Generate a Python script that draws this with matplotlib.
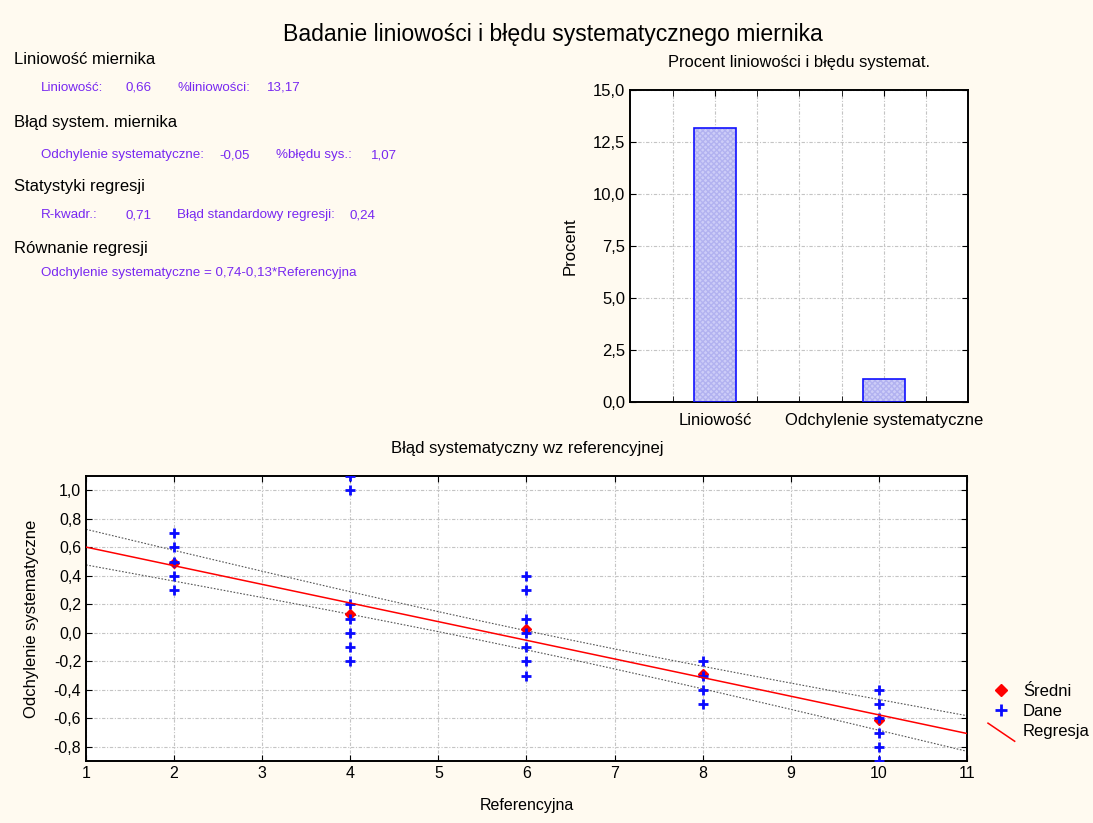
import numpy as np
import matplotlib
matplotlib.use('Agg')
import matplotlib.pyplot as plt
from matplotlib.legend_handler import HandlerBase
from matplotlib.lines import Line2D
from matplotlib.ticker import FuncFormatter, MultipleLocator

plt.rcParams['font.family'] = ['Liberation Sans', 'DejaVu Sans']

# --- statystyki (blok tekstowy) ---
liniowosc = 0.66
proc_liniowosci = 13.17
odchylenie_sys = -0.05
proc_bledu_sys = 1.07
r_kwadrat = 0.71
blad_std_regresji = 0.24
wyraz_wolny = 0.74
wsp_kier = -0.13

# --- wykres slupkowy ---
bar_labels = ['Liniowość', 'Odchylenie systematyczne']
bar_values = [13.17, 1.07]

# --- dane pomiarowe ---
dane_x = [2, 2, 2, 2, 2,
          4, 4, 4, 4, 4, 4, 4,
          6, 6, 6, 6, 6, 6, 6,
          8, 8, 8, 8,
          10, 10, 10, 10, 10, 10]
dane_y = [0.7, 0.6, 0.5, 0.4, 0.3,
          1.1, 1.0, 0.2, 0.1, 0.0, -0.1, -0.2,
          0.4, 0.3, 0.1, 0.0, -0.1, -0.2, -0.3,
          -0.2, -0.3, -0.4, -0.5,
          -0.4, -0.5, -0.6, -0.7, -0.8, -0.9]
sredni_x = [2, 4, 6, 8, 10]
sredni_y = [0.49, 0.13, 0.03, -0.29, -0.61]

# linia regresji i pasmo ufnosci
reg_a = 0.732
reg_b = -0.1308
pasmo_srodek = 6.0
pasmo_hw_srodek = 0.067
pasmo_hw_brzeg = 0.125

TLO = '#fffaf0'
FIOLET = '#7828f0'
SIATKA = dict(color='#c4c4c4', linestyle=(0, (3, 1.5, 1, 1.5)), linewidth=0.8)


def przecinek(v, pos=None):
    return f'{round(v, 1) + 0:.1f}'.replace('.', ',')


def fmt(v):
    return f'{v:.2f}'.replace('.', ',')


class HandlerUkos(HandlerBase):
    def create_artists(self, legend, orig_handle, xdescent, ydescent,
                       width, height, fontsize, trans):
        line = Line2D([-xdescent, -xdescent + width],
                      [height * 1.1, -ydescent - height * 0.45],
                      color=orig_handle.get_color(), lw=orig_handle.get_linewidth())
        line.set_transform(trans)
        return [line]


fig = plt.figure(figsize=(10.93, 8.23), dpi=100, facecolor=TLO)

fig.text(0.506, 1 - 35 / 823, 'Badanie liniowości i błędu systematycznego miernika',
         ha='center', va='center', fontsize=16.6)

# blok tekstowy
W, H = 1093.0, 823.0
NAG = 12
ROZ = 9.6


def ft(x, y, s, **kw):
    fig.text(x / W, 1 - y / H, s, va='center', ha='left', **kw)


ft(14, 60, 'Liniowość miernika', fontsize=NAG)
ft(41, 88, 'Liniowość:', fontsize=ROZ, color=FIOLET)
ft(126, 88, fmt(liniowosc), fontsize=ROZ, color=FIOLET)
ft(177, 88, '%liniowości:', fontsize=ROZ, color=FIOLET)
ft(267, 88, fmt(proc_liniowosci), fontsize=ROZ, color=FIOLET)

ft(14, 122, 'Błąd system. miernika', fontsize=NAG)
ft(41, 155, 'Odchylenie systematyczne:', fontsize=ROZ, color=FIOLET)
ft(219, 155, fmt(odchylenie_sys), fontsize=ROZ, color=FIOLET)
ft(276, 155, '%błędu sys.:', fontsize=ROZ, color=FIOLET)
ft(371, 155, fmt(proc_bledu_sys), fontsize=ROZ, color=FIOLET)

ft(14, 187, 'Statystyki regresji', fontsize=NAG)
ft(41, 215, 'R-kwadr.:', fontsize=ROZ, color=FIOLET)
ft(125, 215, fmt(r_kwadrat), fontsize=ROZ, color=FIOLET)
ft(177, 215, 'Błąd standardowy regresji:', fontsize=ROZ, color=FIOLET)
ft(350, 215, fmt(blad_std_regresji), fontsize=ROZ, color=FIOLET)

ft(14, 249, 'Równanie regresji', fontsize=NAG)
ft(41, 273, f'Odchylenie systematyczne = {fmt(wyraz_wolny)}{fmt(wsp_kier)}*Referencyjna',
   fontsize=ROZ, color=FIOLET)

# wykres slupkowy
axb = fig.add_axes([0.5767, 0.5119, 0.3093, 0.3787])
axb.set_facecolor('white')
pos = [1, 2]
axb.bar(pos, bar_values, width=0.25, color='#cdcdf8', edgecolor='#b2b2f0',
        hatch='xxxxxx', linewidth=0, zorder=2)
axb.bar(pos, bar_values, width=0.25, fill=False, edgecolor='#1010ff',
        linewidth=1.2, zorder=3)
axb.set_xlim(0.5, 2.5)
axb.set_ylim(0, 15)
axb.set_xticks(pos, bar_labels)
axb.set_xticks(np.arange(0.75, 2.5, 0.25), minor=True)
axb.yaxis.set_major_locator(MultipleLocator(2.5))
axb.yaxis.set_major_formatter(FuncFormatter(przecinek))
axb.grid(True, which='both', **SIATKA)
axb.set_axisbelow(True)
axb.tick_params(which='both', direction='in', top=True, right=True, length=4,
                labelsize=12)
axb.tick_params(axis='x', which='major', bottom=False, pad=8)
axb.set_ylabel('Procent', fontsize=12)
axb.yaxis.set_label_coords(-0.157, 0.5)
fig.text(0.731, 1 - 62 / H, 'Procent liniowości i błędu systemat.',
         ha='center', va='center', fontsize=11.9)
for s in axb.spines.values():
    s.set_linewidth(1.4)

# wykres rozrzutu
ax = fig.add_axes([0.0787, 0.0753, 0.806, 0.3463])
ax.set_facecolor('white')
ax.set_xlim(1, 11)
ax.set_ylim(-0.9, 1.1)
ax.xaxis.set_major_locator(MultipleLocator(1))
ax.set_yticks(np.arange(-0.8, 1.01, 0.2))
ax.yaxis.set_major_formatter(FuncFormatter(przecinek))
ax.grid(True, **SIATKA)
ax.set_axisbelow(True)
ax.tick_params(direction='in', top=True, right=True, length=4, labelsize=11.5)
for s in ax.spines.values():
    s.set_linewidth(1.4)

xs = np.linspace(1, 11, 200)
ys = reg_a + reg_b * xs
kk = (pasmo_hw_brzeg ** 2 - pasmo_hw_srodek ** 2) / 25.0
hw = np.sqrt(pasmo_hw_srodek ** 2 + kk * (xs - pasmo_srodek) ** 2)
ax.plot(xs, ys + hw, color='#555555', lw=0.8, linestyle=(0, (1.5, 1.5)), zorder=2)
ax.plot(xs, ys - hw, color='#555555', lw=0.8, linestyle=(0, (1.5, 1.5)), zorder=2)

ax.plot(sredni_x, sredni_y, linestyle='none', marker='D', ms=5.5,
        color='red', zorder=3)
ax.plot(dane_x, dane_y, linestyle='none', marker='+', ms=7, mew=2,
        color='#0a0aff', zorder=4)
ax.plot(xs, ys, color='red', lw=1.1, zorder=5)

ax.set_xlabel('Referencyjna', fontsize=11.5)
ax.xaxis.set_label_coords(0.5, -0.13)
ax.set_ylabel('Odchylenie systematyczne', fontsize=12)
ax.yaxis.set_label_coords(-0.053, 0.5)
fig.text(0.482, 1 - 449 / H, 'Błąd systematyczny wz referencyjnej',
         ha='center', va='center', fontsize=12)

h_sr = Line2D([], [], linestyle='none', marker='D', ms=6, color='red')
h_da = Line2D([], [], linestyle='none', marker='+', ms=9, mew=2, color='#0a0aff')
h_re = Line2D([], [], color='red', lw=1.1)
fig.legend([h_sr, h_da, h_re], ['Średni', 'Dane', 'Regresja'],
           loc='upper left', bbox_to_anchor=(988 / W, 1 - 684 / H),
           frameon=False, fontsize=12, handlelength=1.6, handletextpad=0.5,
           labelspacing=0.3, borderpad=0, borderaxespad=0, numpoints=1,
           handler_map={h_re: HandlerUkos()})

fig.savefig('out.png', dpi=100, facecolor=TLO)
